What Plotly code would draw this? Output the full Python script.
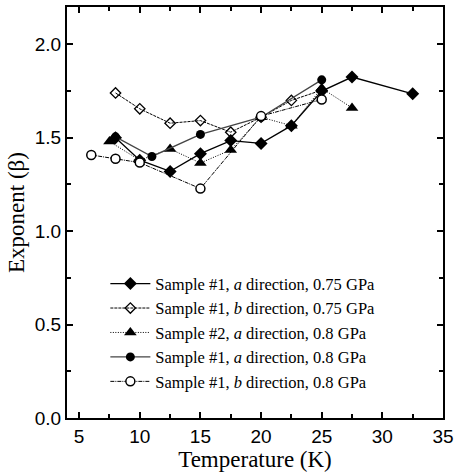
import plotly.graph_objects as go

# Data
T_s1a075 = [8, 10, 12.5, 15, 17.5, 20, 22.5, 25, 27.5, 32.5]
B_s1a075 = [1.50, 1.38, 1.32, 1.415, 1.485, 1.47, 1.565, 1.75, 1.825, 1.735]

T_s1b075 = [8, 10, 12.5, 15, 17.5, 20, 22.5, 25]
B_s1b075 = [1.74, 1.655, 1.578, 1.592, 1.53, 1.61, 1.70, 1.755]

T_s2a08 = [7.5, 10, 12.5, 15, 17.5, 20, 22.5, 25, 27.5]
B_s2a08 = [1.48, 1.38, 1.44, 1.365, 1.435, 1.61, 1.565, 1.765, 1.66]

T_s1a08 = [8, 11, 15, 20, 25]
B_s1a08 = [1.505, 1.40, 1.518, 1.61, 1.81]

T_s1b08 = [6, 8, 10, 15, 20, 25]
B_s1b08 = [1.408, 1.388, 1.367, 1.228, 1.616, 1.705]

names = [
    "Sample #1, <i>a</i> direction, 0.75 GPa",
    "Sample #1, <i>b</i> direction, 0.75 GPa",
    "Sample #2, <i>a</i> direction, 0.8 GPa",
    "Sample #1, <i>a</i> direction, 0.8 GPa",
    "Sample #1, <i>b</i> direction, 0.8 GPa",
]

fig = go.Figure()
fig.add_trace(go.Scatter(x=T_s1a075, y=B_s1a075, name=names[0], mode="lines+markers",
                         line=dict(color="black", width=1.3),
                         marker=dict(symbol="diamond", size=10, color="black")))
fig.add_trace(go.Scatter(x=T_s1b075, y=B_s1b075, name=names[1], mode="lines+markers",
                         line=dict(color="black", width=1, dash="3px,1px"),
                         marker=dict(symbol="diamond-open", size=8, color="black", line=dict(width=1.3))))
fig.add_trace(go.Scatter(x=T_s2a08, y=B_s2a08, name=names[2], mode="lines+markers",
                         line=dict(color="black", width=1, dash="1px,1.5px"),
                         marker=dict(symbol="triangle-up", size=11, color="black")))
fig.add_trace(go.Scatter(x=T_s1a08, y=B_s1a08, name=names[3], mode="lines+markers",
                         line=dict(color="#444444", width=1.3),
                         marker=dict(symbol="circle", size=9, color="black")))
fig.add_trace(go.Scatter(x=T_s1b08, y=B_s1b08, name=names[4], mode="lines+markers",
                         line=dict(color="black", width=1, dash="4px,1px,1px,1px"),
                         marker=dict(symbol="circle", size=9, color="white", line=dict(color="black", width=1.5))))

axis_common = dict(showline=True, linecolor="black", linewidth=2, mirror="ticks",
                   ticks="inside", tickcolor="black", tickwidth=1.5, ticklen=6,
                   showgrid=False, zeroline=False,
                   tickfont=dict(family="Liberation Sans", size=19, color="black"))

fig.update_xaxes(range=[4, 35], dtick=5, tick0=5,
                 minor=dict(dtick=2.5, tick0=5, ticks="inside", ticklen=4, tickcolor="black", tickwidth=1.5),
                 title=dict(text="Temperature (K)", font=dict(family="Liberation Serif", size=23, color="black"), standoff=2),
                 **axis_common)
fig.update_yaxes(range=[0, 2.2], dtick=0.5, tick0=0, tickformat=".1f",
                 minor=dict(dtick=0.25, tick0=0, ticks="inside", ticklen=4, tickcolor="black", tickwidth=1.5),
                 title=dict(text="Exponent (β)", font=dict(family="Liberation Serif", size=23, color="black"), standoff=4),
                 **axis_common)

fig.update_layout(
    width=459, height=474,
    margin=dict(l=67, r=12, t=5, b=56),
    plot_bgcolor="white", paper_bgcolor="white",
    showlegend=True,
    legend=dict(x=0.102, y=0.369, xanchor="left", yanchor="top",
                bgcolor="rgba(0,0,0,0)", borderwidth=0,
                font=dict(family="Liberation Serif", size=16.5, color="black"),
                tracegroupgap=0, itemwidth=40),
)

fig.write_html("out.html", config={"displayModeBar": False},
               post_script="document.body.style.margin='0';")
